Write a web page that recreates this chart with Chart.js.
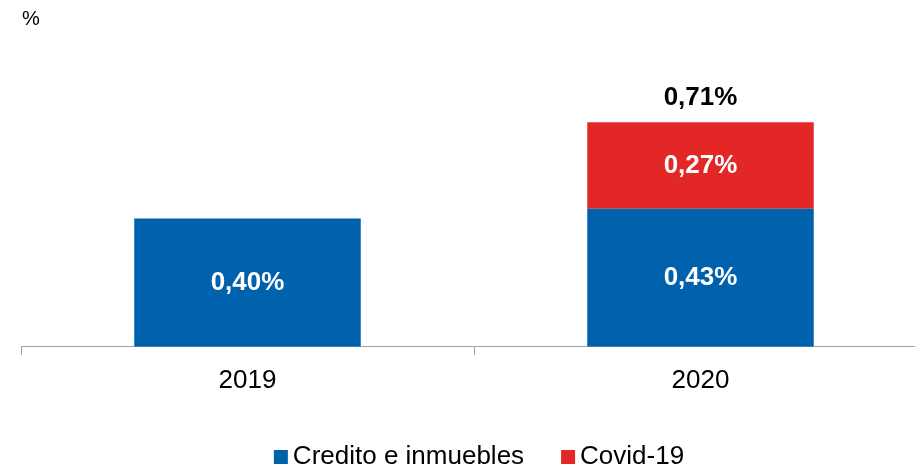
<!DOCTYPE html>
<html>
<head>
<meta charset="utf-8">
<script src="https://cdn.jsdelivr.net/npm/chart.js@4/dist/chart.umd.min.js"></script>
<style>
  html, body { margin: 0; padding: 0; background: #fff; overflow: hidden; }
  #wrap { width: 927px; height: 470px; position: relative; }
</style>
</head>
<body>
<div id="wrap"><canvas id="grafico"></canvas></div>
<script>
// datos
const categorias = ['2019', '2020'];
const credito = [0.40, 0.43];
const covid = [null, 0.27];
const totales = [null, 0.71];

const FUENTE = '"Liberation Sans", Arial, sans-serif';
const fmt = v => v.toFixed(2).replace('.', ',') + '%';

// etiquetas, titulo del eje y leyenda
const etiquetas = {
    id: 'etiquetas',
    afterDatasetsDraw(chart) {
        const ctx = chart.ctx;
        ctx.save();
        ctx.textAlign = 'center';
        ctx.textBaseline = 'middle';
        ctx.font = 'bold 26px ' + FUENTE;
        chart.data.datasets.forEach((ds, i) => {
            chart.getDatasetMeta(i).data.forEach((bar, j) => {
                const v = ds.data[j];
                if (v == null) return;
                ctx.fillStyle = '#fff';
                ctx.fillText(fmt(v), bar.x, (bar.y + bar.base) / 2);
            });
        });
        const top = chart.getDatasetMeta(chart.data.datasets.length - 1).data;
        totales.forEach((t, j) => {
            if (t == null) return;
            ctx.fillStyle = '#000';
            ctx.fillText(fmt(t), top[j].x, top[j].y - 24);
        });
        ctx.font = '20px ' + FUENTE;
        ctx.textAlign = 'left';
        ctx.fillStyle = '#000';
        ctx.fillText('%', 22, 19);

        // leyenda
        ctx.font = '26px ' + FUENTE;
        const caja = 14, hueco = 5, sep = 37;
        const anchos = chart.data.datasets.map(ds => caja + hueco + ctx.measureText(ds.label).width);
        const total = anchos.reduce((a, b) => a + b, 0) + sep * (anchos.length - 1);
        let x = 479 - total / 2;
        const y = 457;
        chart.data.datasets.forEach((ds, i) => {
            ctx.fillStyle = ds.backgroundColor;
            ctx.fillRect(x, y - caja / 2, caja, caja);
            ctx.fillStyle = '#000';
            ctx.fillText(ds.label, x + caja + hueco, y);
            x += anchos[i] + sep;
        });
        ctx.restore();
    }
};

const ctxGrafico = document.getElementById('grafico').getContext('2d');
const grafico = new Chart(ctxGrafico, {
    type: 'bar',
    data: {
        labels: categorias,
        datasets: [{
            label: 'Credito e inmuebles',
            data: credito,
            backgroundColor: '#0061AD'
        }, {
            label: 'Covid-19',
            data: covid,
            backgroundColor: '#E32726'
        }]
    },
    options: {
        responsive: true,
        maintainAspectRatio: false,
        animation: false,
        layout: { padding: { top: 26, left: 21, right: 0, bottom: 64 } },
        barPercentage: 0.5,
        categoryPercentage: 1,
        scales: {
            x: {
                stacked: true,
                grid: { display: true, drawOnChartArea: false, tickLength: 8, color: '#a0a0a0', offset: true },
                border: { display: true, color: '#a0a0a0' },
                ticks: { color: '#000', padding: 10, font: { size: 26, family: FUENTE } }
            },
            y: {
                stacked: true,
                display: false,
                min: 0,
                max: 1
            }
        },
        plugins: {
            legend: { display: false },
            tooltip: { enabled: false }
        }
    },
    plugins: [etiquetas]
});
</script>
</body>
</html>
